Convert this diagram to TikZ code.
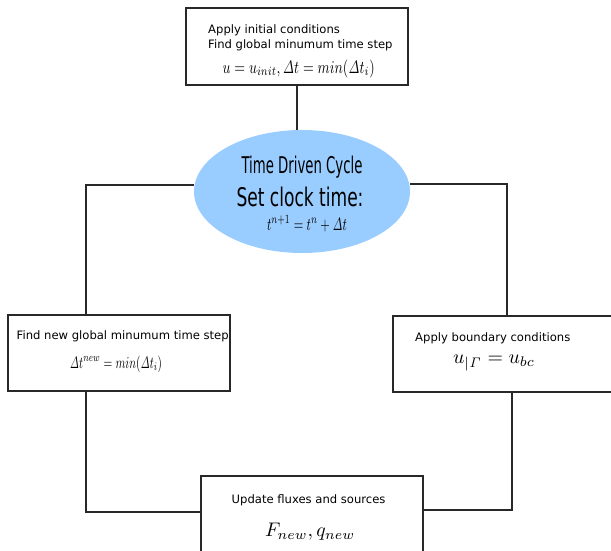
\documentclass[tikz,border=0pt]{standalone}
\usepackage{amsmath}
\usepackage[no-math]{fontspec}
\newfontfamily\dejavu{DejaVu Sans}
\usetikzlibrary{shapes.geometric}
\definecolor{cyclefill}{RGB}{153,204,255}
\definecolor{linegray}{RGB}{40,40,40}
\tikzset{
  box/.style={draw=linegray, line width=1.1pt, fill=white, inner sep=0pt},
  conn/.style={draw=linegray, line width=1.1pt},
  txt/.style={inner sep=0pt, font=\dejavu\fontsize{11.6}{14}\selectfont},
  mth/.style={inner sep=0pt},
}
\begin{document}
\begin{tikzpicture}[x=1pt,y=-1pt]
\useasboundingbox (0,0) rectangle (611,551);
% boxes
\node[box, minimum width=222, minimum height=77] (top) at (297,46.5) {};
\node[ellipse, fill=cyclefill, minimum width=216, minimum height=123, inner sep=0pt] (cycle) at (302,191.5) {};
\node[box, minimum width=222, minimum height=76] (left) at (119,353) {};
\node[box, minimum width=237, minimum height=76] (right) at (511.5,354) {};
\node[box, minimum width=222, minimum height=124] (bottom) at (312,538) {};
% bends
\coordinate (lbend) at (86,185);
\coordinate (rbend) at (507,184);
\coordinate (lbot) at (86,512);
\coordinate (rbot) at (512,510);
% connectors
\draw[conn] (top.south) -- (top.south |- cycle.north);
\draw[conn] (cycle.west |- lbend) -- (lbend) -- (lbend |- left.north);
\draw[conn] (cycle.east |- rbend) -- (rbend) -- (rbend |- right.north);
\draw[conn] (lbot |- left.south) -- (lbot) -- (lbot -| bottom.west);
\draw[conn] (rbot |- right.south) -- (rbot) -- (rbot -| bottom.east);
% texts
\node[txt, anchor=west] (t1) at (208,30) {Apply initial conditions};
\node[txt, anchor=west] (t2) at (208,45) {Find global minumum time step};
\node[mth, anchor=base west] (t3) at (222.5,73.3) {\resizebox{152pt}{13.5pt}{$u=u_{init},\mathit{\Delta} t=min(\mathit{\Delta} t_i)$}};
\node[inner sep=0pt, anchor=base] (c1) at (302,173.3) {\resizebox{121pt}{17.5pt}{\dejavu Time Driven Cycle}};
\node[inner sep=0pt, anchor=base] (c2) at (300,206.7) {\resizebox{127pt}{19.5pt}{\dejavu Set clock time:}};
\node[mth, anchor=base] (c3) at (307,230) {\resizebox{80pt}{14.5pt}{$t^{n+1}=t^n+\mathit{\Delta} t$}};
\node[txt, anchor=west] (l1) at (16.5,336) {Find new global minumum time step};
\node[mth, anchor=base] (l2) at (116,368) {\resizebox{92pt}{12.5pt}{$\mathit{\Delta} t^{new}=min(\mathit{\Delta} t_i)$}};
\node[txt, anchor=west] (r1) at (415,338) {Apply boundary conditions};
\node[mth] (r2) at (494,363) {\resizebox{82pt}{!}{$u_{|\mathit{\Gamma}}=u_{bc}$}};
\node[txt, anchor=west] (b1) at (231.5,500) {Update fluxes and sources};
\node[mth] (b2) at (310,532) {\resizebox{90pt}{!}{$F_{new},q_{new}$}};
\end{tikzpicture}
\end{document}
